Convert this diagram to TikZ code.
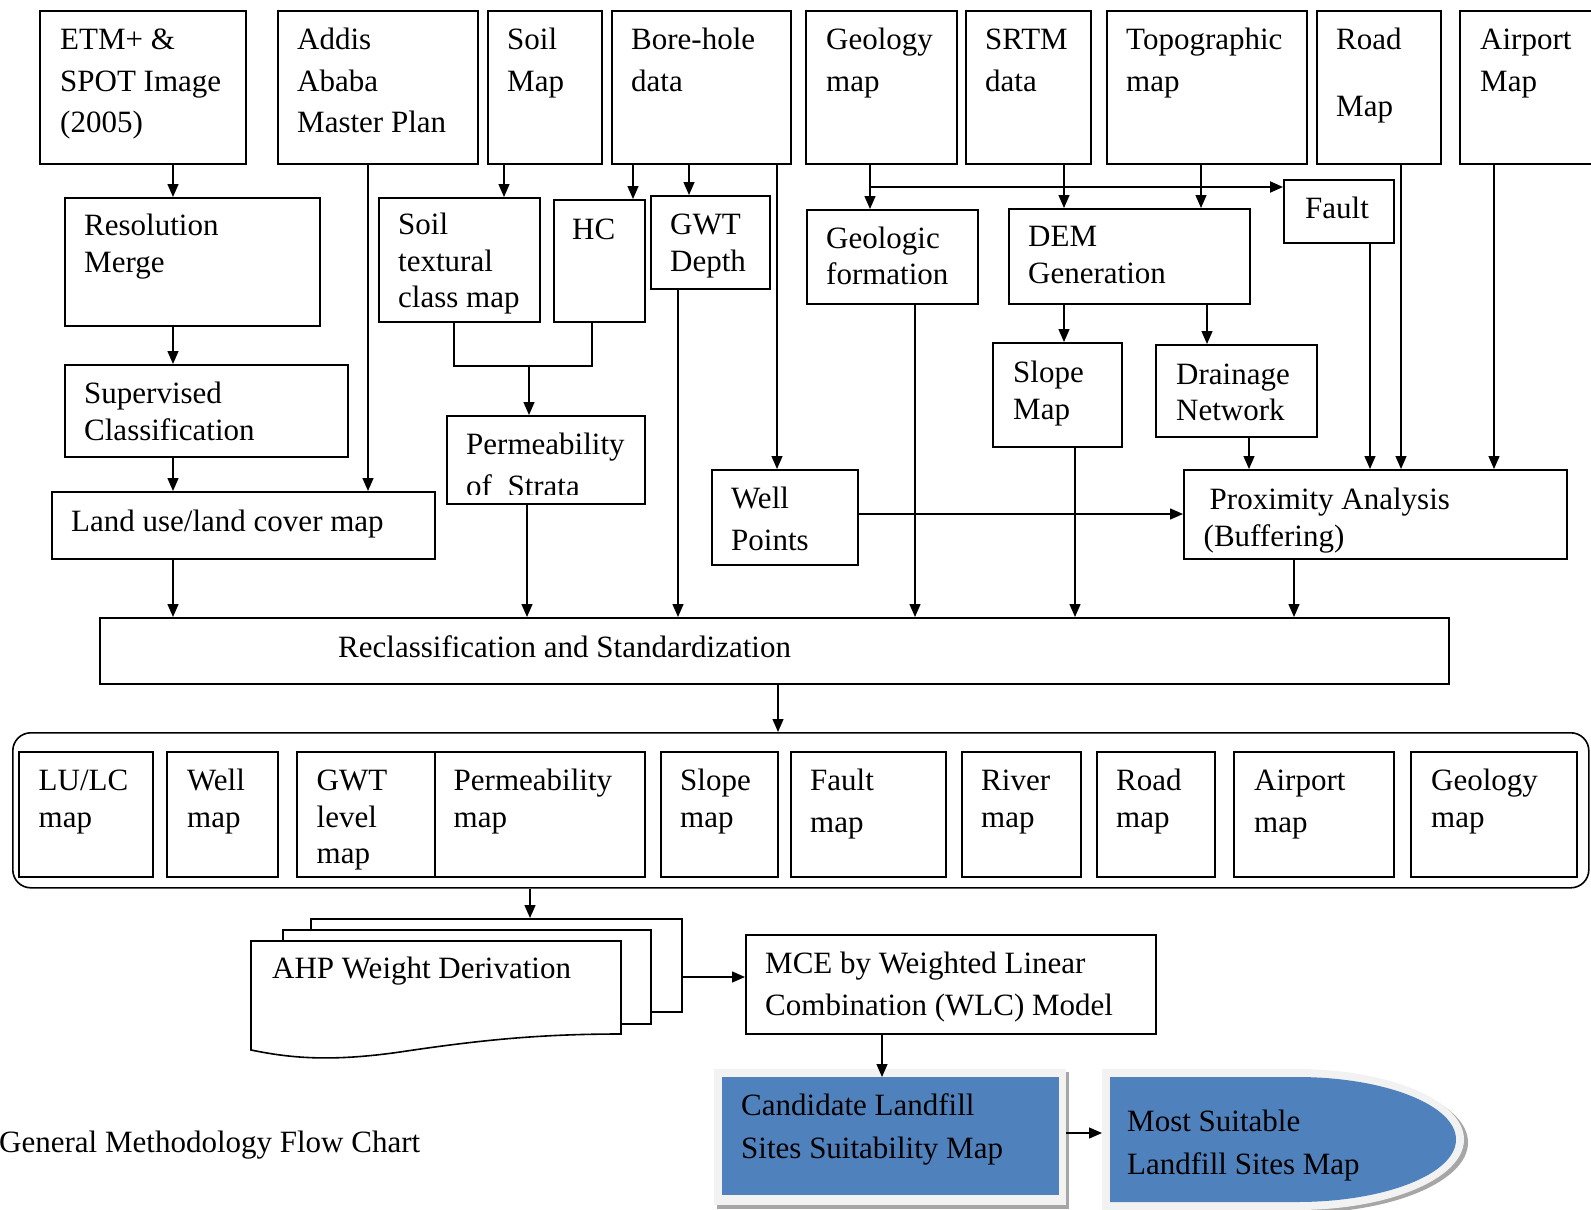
\documentclass[tikz,border=0pt]{standalone}
\usepackage{fontspec}
\setmainfont{Liberation Serif}
\usetikzlibrary{arrows.meta}
\definecolor{blueF}{HTML}{4F81BD}
\definecolor{frameF}{HTML}{F2F2F2}
\definecolor{shadowF}{HTML}{A6A6A6}
\newcommand\fs{\rule{0pt}{22.5pt}}
\tikzset{
 box/.style={draw, line width=1.6pt, rectangle, inner sep=0pt, anchor=north west},
 txt/.style={anchor=north west, inner sep=0pt, align=left, font=\fontsize{31}{36.5}\selectfont},
 txtw/.style={txt, font=\fontsize{31}{41.6}\selectfont},
 txtk/.style={txt, font=\fontsize{31}{42.3}\selectfont},
 arr/.style={line width=1.4pt, -{Triangle[length=13pt,width=11pt]}},
 ln/.style={line width=1.4pt},
}
\newcommand\bx[5]{\node[box, minimum width={(#4-#2)*1pt}, minimum height={(#5-#3)*1pt}] (#1) at (#2,#3) {};}
\newcommand\tx[5]{\node[#1] (#2) at (#3,{#4-11.8}) {\fs #5};}
\begin{document}
\begin{tikzpicture}[x=1pt,y=-1pt]
\useasboundingbox (0,0) rectangle (1591,1210);
% ---------- top row
\bx{etm}{39}{10}{245}{163}
\bx{addis}{277}{10}{477}{163}
\bx{soilmap}{487}{10}{601}{163}
\bx{bore}{611}{10}{790}{163}
\bx{geomap}{805}{10}{956}{163}
\bx{srtm}{965}{10}{1090}{163}
\bx{topo}{1106}{10}{1306}{163}
\bx{road}{1316}{10}{1440}{163}
\bx{airport}{1459}{10}{1610}{163}
\tx{txtw}{etm-t}{60}{38.6}{ETM+ \&\\SPOT Image\\(2005)}
\tx{txtw}{addis-t}{297}{38.6}{Addis\\Ababa\\Master Plan}
\tx{txtw}{soilmap-t}{507}{38.6}{Soil\\Map}
\tx{txtw}{bore-t}{631}{38.6}{Bore-hole\\data}
\tx{txtw}{geomap-t}{826}{38.6}{Geology\\map}
\tx{txtw}{srtm-t}{985}{38.6}{SRTM\\data}
\tx{txtw}{topo-t}{1126}{38.6}{Topographic\\map}
\tx{txtw}{road-t}{1336}{38.6}{Road\\[25.4pt]Map}
\tx{txtw}{airport-t}{1480}{38.6}{Airport\\Map}
% ---------- middle
\bx{resm}{64}{197}{319}{325}
\tx{txt}{resm-t}{84}{225}{Resolution\\Merge}
\bx{soiltex}{378}{197}{539}{321}
\tx{txt}{soiltex-t}{398}{224}{Soil\\textural\\class map}
\bx{hc}{553}{199}{644}{321}
\tx{txt}{hc-t}{572}{229}{HC}
\bx{gwt}{650}{195}{769}{288}
\tx{txt}{gwt-t}{670}{224}{GWT\\Depth}
\bx{geoform}{806}{209}{977}{303}
\tx{txt}{geoform-t}{826}{237.5}{Geologic\\formation}
\bx{dem}{1008}{208}{1249}{303}
\tx{txt}{dem-t}{1028}{236}{DEM\\Generation}
\bx{fault}{1283}{179}{1393}{242}
\tx{txt}{fault-t}{1305}{208}{Fault}
\bx{sup}{64}{364}{347}{456}
\tx{txt}{sup-t}{84}{393}{Supervised\\Classification}
\bx{perm}{446}{415}{644}{503}
\begin{scope}
\clip (446,415) rectangle (644,494.5);
\node[txt, font=\fontsize{31}{41.3}\selectfont] (perm-t) at (466,432.2) {\fs Permeability\\of\ \ Strata};
\end{scope}
\bx{slope}{992}{342}{1121}{446}
\tx{txt}{slope-t}{1013}{372}{Slope\\Map}
\bx{drain}{1155}{344}{1316}{436}
\tx{txt}{drain-t}{1176}{373.5}{Drainage\\Network}
\bx{well}{711}{469}{857}{564}
\node[txt, font=\fontsize{31}{42.6}\selectfont] (well-t) at (731,485.5) {\fs Well\\Points};
\bx{prox}{1183}{469}{1566}{558}
\node[txt, font=\fontsize{31}{37}\selectfont] (prox-t) at (1203.5,486.5) {\fs\hspace*{6pt}Proximity Analysis\\(Buffering)};
\bx{lulc}{51}{491}{434}{558}
\tx{txt}{lulc-t}{71}{520.5}{Land use/land cover map}
\bx{reclass}{99}{617}{1448}{683}
\tx{txt}{reclass-t}{338}{646.4}{Reclassification and Standardization}
% ---------- container
\node[draw, line width=1.6pt, rounded corners=18pt, inner sep=0pt, anchor=north west,
      minimum width=1576pt, minimum height=155pt] (cont) at (12,732) {};
\bx{b1}{18}{751}{152}{876}
\bx{b2}{166}{751}{277}{876}
\bx{b3}{296}{751}{434}{876}
\bx{b4}{434}{751}{644}{876}
\bx{b5}{660}{751}{777}{876}
\bx{b6}{790}{751}{945}{876}
\bx{b7}{961}{751}{1080}{876}
\bx{b8}{1096}{751}{1214}{876}
\bx{b9}{1233}{751}{1393}{876}
\bx{b10}{1410}{751}{1576}{876}
\tx{txt}{b1-t}{38.5}{780}{LU/LC\\map}
\tx{txt}{b2-t}{187}{780}{Well\\map}
\tx{txt}{b3-t}{316.5}{780}{GWT\\level\\map}
\tx{txt}{b4-t}{453.5}{780}{Permeability\\map}
\tx{txt}{b5-t}{680}{780}{Slope\\map}
\tx{txtw}{b6-t}{810}{780}{Fault\\map}
\tx{txt}{b7-t}{981}{780}{River\\map}
\tx{txt}{b8-t}{1116}{780}{Road\\map}
\tx{txtw}{b9-t}{1254}{780}{Airport\\map}
\tx{txt}{b10-t}{1431}{780}{Geology\\map}
% ---------- AHP stack
\node[box, fill=white, minimum width=371pt, minimum height=93pt] (ahp3) at (310,918) {};
\node[box, fill=white, minimum width=368pt, minimum height=94pt] (ahp2) at (282,929) {};
\draw[line width=1.6pt, fill=white] (251,941) -- (621,941) -- (621,1034)
  .. controls (540,1034) and (480,1040) .. (400,1052)
  .. controls (330,1062) and (290,1058) .. (251,1050) -- cycle;
\tx{txt}{ahp-t}{272}{968}{AHP Weight Derivation}
% ---------- MCE
\bx{mce}{745}{934}{1155}{1033}
\tx{txtw}{mce-t}{765}{963}{MCE by Weighted Linear\\Combination (WLC) Model}
% ---------- candidate
\fill[shadowF] (717,1072) rectangle (1069,1209);
\node[anchor=north west, inner sep=0pt, fill=frameF, minimum width=352pt, minimum height=136pt] (candframe) at (714,1069) {};
\node[anchor=north west, inner sep=0pt, fill=blueF, minimum width=337pt, minimum height=118pt] (cand) at (722,1077) {};
\tx{txtk}{cand-t}{741}{1105}{Candidate Landfill\\Sites Suitability Map}
% ---------- most suitable
\fill[shadowF] (1105,1072) -- (1300,1072) .. controls (1392.2,1072) and (1468,1103.6) .. (1468,1142.5)
  .. controls (1468,1181.4) and (1392.2,1213) .. (1300,1213) -- (1105,1213) -- cycle;
\fill[frameF] (1102,1069) -- (1297,1069) .. controls (1389.2,1069) and (1464,1100.6) .. (1464,1139.5)
  .. controls (1464,1178.4) and (1389.2,1210) .. (1297,1210) -- (1102,1210) -- cycle;
\fill[blueF] (1110,1077) -- (1297,1077) .. controls (1384.8,1077) and (1456,1105) .. (1456,1139.5)
  .. controls (1456,1174) and (1384.8,1202) .. (1297,1202) -- (1110,1202) -- cycle;
\coordinate (most-w) at (1102,1133);
\tx{txtk}{most-t}{1127}{1121}{Most Suitable\\Landfill Sites Map}
% ---------- caption
\tx{txt}{title}{-1}{1142}{General Methodology Flow Chart}
% ---------- connectors
\draw[arr] (etm.south -| 173,0) -- (resm.north -| 173,0);
\draw[arr] (resm.south -| 173,0) -- (sup.north -| 173,0);
\draw[arr] (sup.south -| 173,0) -- (lulc.north -| 173,0);
\draw[arr] (addis.south -| 368,0) -- (lulc.north -| 368,0);
\draw[arr] (soilmap.south -| 504,0) -- (soiltex.north -| 504,0);
\draw[arr] (bore.south -| 633,0) -- (hc.north -| 633,0);
\draw[arr] (bore.south -| 689,0) -- (gwt.north -| 689,0);
\draw[arr] (bore.south -| 777,0) -- (well.north -| 777,0);
\coordinate (mrg) at (529,366);
\draw[ln] (soiltex.south -| 454,0) |- (mrg) -| (hc.south -| 592,0);
\draw[arr] (mrg) -- (perm.north -| mrg);
\coordinate (gbr) at (870,187);
\draw[arr] (geomap.south -| 870,0) -- (geoform.north -| 870,0);
\draw[arr, line width=2pt] (gbr) -- (fault.west |- gbr);
\draw[arr] (srtm.south -| 1064,0) -- (dem.north -| 1064,0);
\draw[arr] (topo.south -| 1201,0) -- (dem.north -| 1201,0);
\draw[arr] (dem.south -| 1064,0) -- (slope.north -| 1064,0);
\draw[arr] (dem.south -| 1207,0) -- (drain.north -| 1207,0);
\draw[arr] (drain.south -| 1249,0) -- (prox.north -| 1249,0);
\draw[arr] (fault.south -| 1370,0) -- (prox.north -| 1370,0);
\draw[arr] (road.south -| 1401,0) -- (prox.north -| 1401,0);
\draw[arr] (airport.south -| 1494,0) -- (prox.north -| 1494,0);
\draw[arr] (well.east |- 0,514) -- (prox.west |- 0,514);
\draw[arr] (lulc.south -| 173,0) -- (reclass.north -| 173,0);
\draw[arr] (perm.south -| 527,0) -- (reclass.north -| 527,0);
\draw[arr] (gwt.south -| 678,0) -- (reclass.north -| 678,0);
\draw[arr] (geoform.south -| 915,0) -- (reclass.north -| 915,0);
\draw[arr] (slope.south -| 1075,0) -- (reclass.north -| 1075,0);
\draw[arr] (prox.south -| 1294,0) -- (reclass.north -| 1294,0);
\draw[arr] (reclass.south -| 778,0) -- (cont.north -| 778,0);
\draw[arr] (cont.south -| 530,0) -- (ahp3.north -| 530,0);
\draw[arr] (ahp3.east |- 0,977) -- (mce.west |- 0,977);
\draw[arr] (mce.south -| 882,0) -- (cand.north -| 882,0);
\draw[arr] (candframe.east |- 0,1133) -- (most-w);
\end{tikzpicture}
\end{document}
